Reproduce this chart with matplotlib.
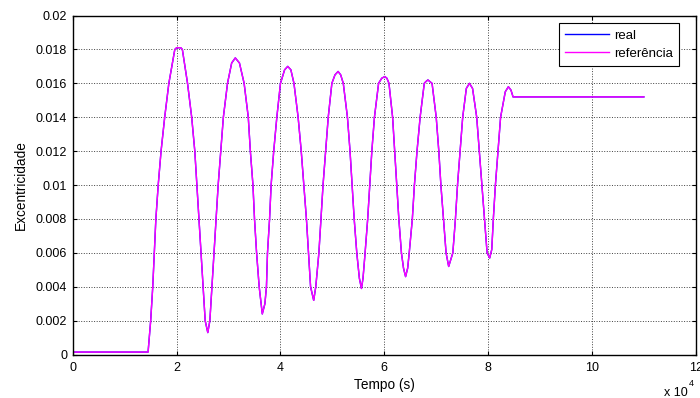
import matplotlib.pyplot as plt

# pontos (tempo em 1e4 s, excentricidade)
tempo = [0.0, 1.45, 1.50, 1.54, 1.57, 1.60, 1.645, 1.70, 1.77, 1.85, 1.965, 2.00, 2.04, 2.08, 2.11,
         2.21, 2.29, 2.35, 2.39, 2.43, 2.47, 2.51, 2.55, 2.60, 2.64, 2.68, 2.72, 2.76, 2.80, 2.85,
         2.90, 2.98, 3.06, 3.13, 3.21, 3.30, 3.38, 3.42, 3.47, 3.50, 3.54, 3.59, 3.65, 3.70, 3.73,
         3.75, 3.79, 3.82, 3.87, 3.93, 4.00, 4.08, 4.14, 4.20, 4.26, 4.34, 4.40, 4.45, 4.50, 4.54,
         4.58, 4.64, 4.68, 4.74, 4.78, 4.82, 4.87, 4.92, 4.99, 5.05, 5.11, 5.16, 5.21, 5.29, 5.34,
         5.38, 5.42, 5.47, 5.52, 5.56, 5.59, 5.63, 5.68, 5.72, 5.76, 5.81, 5.89, 5.95, 6.01, 6.05,
         6.09, 6.16, 6.20, 6.24, 6.28, 6.33, 6.37, 6.41, 6.45, 6.48, 6.54, 6.58, 6.63, 6.69, 6.77,
         6.80, 6.84, 6.88, 6.92, 7.00, 7.05, 7.09, 7.14, 7.19, 7.24, 7.28, 7.32, 7.37, 7.41, 7.46,
         7.51, 7.58, 7.64, 7.70, 7.78, 7.83, 7.88, 7.93, 7.98, 8.03, 8.07, 8.10, 8.14, 8.19, 8.24,
         8.33, 8.39, 8.44, 8.48, 11.0]
exc = [0.00015, 0.00015, 0.002, 0.004, 0.006, 0.008, 0.010, 0.012, 0.014, 0.016, 0.018, 0.0181, 0.0181, 0.0181, 0.018,
       0.016, 0.014, 0.012, 0.010, 0.008, 0.006, 0.004, 0.002, 0.0013, 0.002, 0.004, 0.006, 0.008, 0.010, 0.012,
       0.014, 0.016, 0.0172, 0.0175, 0.0172, 0.016, 0.014, 0.012, 0.010, 0.008, 0.006, 0.004, 0.0024, 0.003, 0.004,
       0.006, 0.008, 0.010, 0.012, 0.014, 0.016, 0.0168, 0.0170, 0.0168, 0.016, 0.014, 0.012, 0.010, 0.008, 0.006,
       0.004, 0.0032, 0.004, 0.006, 0.008, 0.010, 0.012, 0.014, 0.016, 0.0165, 0.0167, 0.0165, 0.016, 0.014, 0.012,
       0.010, 0.008, 0.006, 0.0045, 0.0039, 0.0045, 0.006, 0.008, 0.010, 0.012, 0.014, 0.016, 0.0163, 0.0164, 0.0163,
       0.016, 0.014, 0.012, 0.010, 0.008, 0.006, 0.0051, 0.0046, 0.0051, 0.006, 0.008, 0.010, 0.012, 0.014, 0.016,
       0.0161, 0.0162, 0.0161, 0.016, 0.014, 0.012, 0.010, 0.008, 0.006, 0.0052, 0.0056, 0.006, 0.008, 0.010, 0.012,
       0.014, 0.0157, 0.0160, 0.0157, 0.014, 0.012, 0.010, 0.008, 0.006, 0.0057, 0.0062, 0.008, 0.010, 0.012, 0.014,
       0.0155, 0.0158, 0.0156, 0.0152, 0.0152]
real = exc  # "real" fica coberto pela referência

plt.rcParams['font.family'] = ['Liberation Sans', 'DejaVu Sans']
fig = plt.figure(figsize=(7, 3.98), dpi=100)
ax = fig.add_axes([0.104, 0.109, 0.890, 0.852])

ax.plot(tempo, real, color='#0000ff', linewidth=1.0, label='real')
ax.plot(tempo, exc, color='#ff00ff', linewidth=1.0, label='referência')

ax.set_xlim(0, 12)
ax.set_ylim(0, 0.02)
ax.set_xticks(range(0, 13, 2))
ax.set_yticks([i * 0.002 for i in range(11)])
ax.set_yticklabels(['0', '0.002', '0.004', '0.006', '0.008', '0.01', '0.012',
                    '0.014', '0.016', '0.018', '0.02'])
ax.grid(True, linestyle=':', color='#404040', linewidth=0.7)
ax.tick_params(direction='in', top=True, right=True, labelsize=9, length=3)
ax.tick_params(axis='x', pad=5)
ax.tick_params(axis='y', pad=4)
for s in ax.spines.values():
    s.set_linewidth(1.0)

ax.set_xlabel('Tempo (s)', fontsize=9.8, labelpad=3)
ax.set_ylabel('Excentricidade', fontsize=9.8, labelpad=6)
fig.text(0.948, 0.006, 'x 10', fontsize=9)
fig.text(0.984, 0.03, '4', fontsize=6.5)

leg = ax.legend(loc='upper right', fontsize=9.5, fancybox=False, framealpha=1,
                edgecolor='black', borderpad=0.5, handlelength=3.3, handletextpad=0.4,
                labelspacing=0.45, borderaxespad=0, bbox_to_anchor=(0.9737, 0.9788))
leg.get_frame().set_linewidth(0.8)

fig.savefig('out.png', dpi=100)
